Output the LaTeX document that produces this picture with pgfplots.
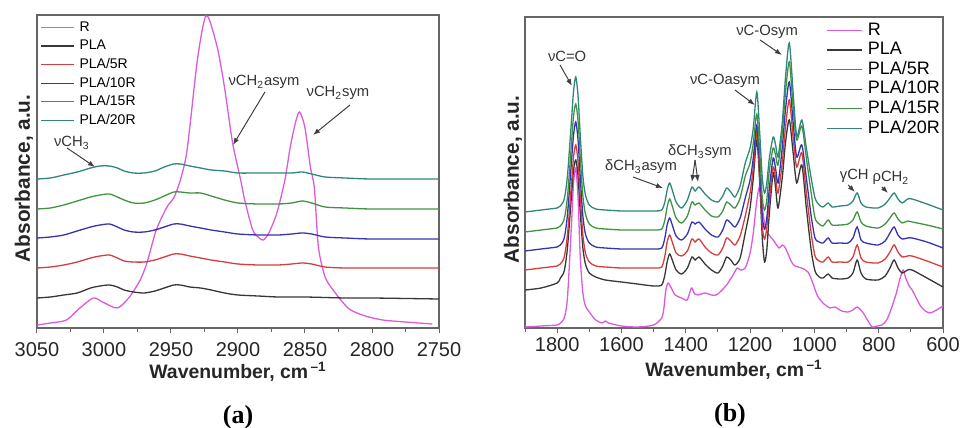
\documentclass[border=0pt]{standalone}
\usepackage{fontspec}
\setmainfont{Liberation Sans}
\newfontfamily\serif{Liberation Serif}
\usepackage{pgfplots}
\pgfplotsset{compat=1.18}
\usetikzlibrary{arrows.meta}
\definecolor{cR}{RGB}{220,90,220}
\definecolor{cPLA}{RGB}{55,55,55}
\definecolor{c5}{RGB}{212,62,62}
\definecolor{c10}{RGB}{52,52,175}
\definecolor{c15}{RGB}{66,146,66}
\definecolor{c20}{RGB}{48,134,124}
\tikzset{
  ann/.style={font=\fontsize{7.4}{9}\selectfont, text=black!80, inner sep=0pt},
  arr/.style={-{Latex[length=3.5pt,width=2.6pt]}, black!75, line width=0.5pt},
}
\pgfplotsset{
  spec/.style={
    scale only axis, x dir=reverse, clip=false,
    axis line style={draw=black!60, line width=0.6pt},
    tick align=outside, xtick pos=bottom, ytick=\empty,
    major tick length=2.6pt, minor tick length=2pt,
    tick style={black!60, line width=0.5pt},
    /pgf/number format/assume math mode=true,
    /pgf/number format/1000 sep={},
    xticklabel style={font=\fontsize{10}{12}\selectfont, text=black!85},
    xlabel style={font=\bfseries\fontsize{9.7}{11}\selectfont, anchor=center, text=black!85},
    ylabel style={font=\bfseries\fontsize{10.4}{12}\selectfont, anchor=center, text=black!85},
    every axis plot/.append style={line width=0.65pt, smooth, tension=0.45, mark=none},
    legend cell align=left,
  },
}
\begin{document}
\begin{tikzpicture}
\useasboundingbox (0,0) rectangle (481.5pt,214pt);
% ---------------- panel (a)
\begin{axis}[spec, name=A,
  at={(18.5pt,50pt)}, anchor=south west, width=201pt, height=156.5pt,
  xmin=2750, xmax=3050, ymin=0, ymax=313,
  xtick={2750,2800,...,3050}, minor xtick={2775,2825,...,3025},
  xticklabel style={yshift=-1pt},
  xlabel={Wavenumber, cm\textsuperscript{\,–1}},
  xlabel style={at={(axis description cs:0.5,-0.1406)}},
  ylabel={Absorbance, a.u.},
  ylabel style={at={(axis description cs:-0.0323,0.478)}},
  legend style={draw=none, fill=none, at={(0,1)}, anchor=north west, xshift=1.5pt, yshift=-1.6pt,
    inner sep=0pt, row sep=0.5pt, column sep=1.7pt, font=\fontsize{7}{8}\selectfont,
    nodes={inner sep=0.8pt, text height=5.6pt, text depth=1.6pt}},
  legend image code/.code={\draw[#1, line width=0.6pt] (0pt,0pt) -- (16.5pt,0pt);},
]
\addplot[cR] coordinates {(3050,3) (3040,5) (3028,8) (3018,20) (3008,30) (3001,26) (2990,20) (2981,31) (2973,48) (2968,65) (2961,98) (2953,121) (2948,130) (2943,148) (2938,178) (2931,261) (2927,296) (2924,312) (2921,307) (2915,278) (2910,240) (2904,185) (2898,148) (2895,128) (2889,98) (2884,90) (2881,88) (2877,95) (2871,115) (2865,148) (2861,181) (2857,206) (2854,216) (2850,200) (2846,161) (2843,140) (2840,81) (2835,51) (2829,38) (2822,26) (2816,18) (2805,12) (2792,8) (2775,6) (2755,4)};
\addlegendentry{R}
\addplot[cPLA] coordinates {(3050,30) (3040,31) (3030,33) (3020,35) (3010,40) (3003,42) (2996,43) (2990,41) (2985,38) (2978,36) (2970,35) (2962,37) (2955,40) (2948,43) (2943,43) (2936,41) (2928,40) (2920,38) (2910,35) (2900,33) (2885,32) (2870,31) (2850,31) (2820,30) (2800,30) (2750,29)};
\addlegendentry{PLA}
\addplot[c5] coordinates {(3050,60) (3040,61) (3030,63) (3020,66) (3010,70) (3003,72) (2996,73) (2990,70) (2985,67) (2978,66) (2970,66) (2962,68) (2955,71) (2948,74) (2943,74) (2936,72) (2928,70) (2920,68) (2910,66) (2900,64) (2885,63) (2870,63) (2860,64) (2852,65) (2845,64) (2835,61) (2820,60) (2800,60) (2750,60)};
\addlegendentry{PLA/5R}
\addplot[c10] coordinates {(3050,90) (3040,91) (3030,93) (3020,97) (3010,101) (3003,103) (2996,104) (2990,101) (2985,98) (2978,96) (2970,96) (2962,98) (2955,101) (2948,104) (2943,104) (2936,102) (2928,100) (2920,98) (2910,96) (2900,94) (2885,93) (2870,93) (2860,94) (2852,95) (2845,94) (2835,91) (2820,90) (2800,89) (2750,89)};
\addlegendentry{PLA/10R}
\addplot[c15] coordinates {(3050,119) (3040,120) (3030,123) (3020,127) (3010,131) (3003,133) (2996,134) (2990,131) (2985,128) (2978,125) (2970,125) (2962,128) (2955,132) (2948,136) (2943,136) (2936,135) (2928,135) (2920,132) (2910,128) (2900,125) (2885,124) (2870,124) (2860,125) (2852,127) (2845,125) (2835,121) (2820,120) (2800,119) (2750,119)};
\addlegendentry{PLA/15R}
\addplot[c20] coordinates {(3050,149) (3040,150) (3030,153) (3020,156) (3010,160) (3003,162) (2996,162) (2990,160) (2985,157) (2978,155) (2970,155) (2962,157) (2955,161) (2948,164) (2943,164) (2936,162) (2928,160) (2920,158) (2910,157) (2900,155) (2885,155) (2870,155) (2860,155) (2852,156) (2845,154) (2835,151) (2820,150) (2800,149) (2750,149)};
\addlegendentry{PLA/20R}
\node[ann] at (axis cs:3024,185) {νCH\textsubscript{3}};
\draw[arr] (axis cs:3027.6,180) -- (axis cs:3006.7,161);
\node[ann] at (axis cs:2880.6,246) {νCH\textsubscript{2}asym};
\draw[arr] (axis cs:2879.9,236) -- (axis cs:2903.7,183);
\node[ann] at (axis cs:2825.4,235) {νCH\textsubscript{2}sym};
\draw[arr] (axis cs:2816.4,223) -- (axis cs:2844,193);
\end{axis}
% ---------------- panel (b)
\begin{axis}[spec, name=B,
  at={(262.5pt,50pt)}, anchor=south west, width=209pt, height=155.5pt,
  xmin=600, xmax=1900, ymin=0, ymax=311,
  xtick={600,800,...,1800}, minor xtick={700,900,...,1900},
  xticklabel style={yshift=1.3pt},
  xlabel={Wavenumber, cm\textsuperscript{\,–1}},
  xlabel style={at={(axis description cs:0.5,-0.135)}},
  ylabel={Absorbance, a.u.},
  ylabel style={at={(axis description cs:-0.0287,0.478)}},
  legend style={draw=none, fill=none, at={(1,1)}, anchor=north east, xshift=-0.7pt, yshift=-1.7pt,
    inner sep=0pt, row sep=0.2pt, column sep=1.9pt, font=\fontsize{9}{10}\selectfont,
    nodes={inner sep=0.6pt, text height=6.6pt, text depth=1.8pt}},
  legend image code/.code={\draw[#1, line width=0.6pt] (0pt,0pt) -- (17.5pt,0pt);},
]
\addplot[cR] coordinates {(1900,1) (1850,2) (1800,3) (1790,5) (1778,10) (1768,30) (1756,100) (1749,145) (1742,160) (1735,130) (1728,70) (1720,35) (1712,22) (1700,16) (1680,8) (1660,5) (1650,7) (1640,5) (1600,2) (1550,1) (1500,3) (1475,10) (1468,20) (1462,38) (1455,45) (1445,40) (1433,33) (1413,30) (1396,28) (1385,38) (1381,40) (1372,34) (1362,33) (1340,35) (1320,33) (1305,33) (1290,37) (1273,43) (1255,52) (1240,60) (1230,58) (1215,60) (1200,75) (1190,95) (1180,125) (1172,140) (1165,128) (1155,105) (1145,95) (1128,88) (1110,80) (1100,83) (1090,80) (1071,66) (1060,62) (1040,60) (1020,56) (1005,45) (990,32) (970,24) (951,20) (936,21) (915,17) (895,16) (880,18) (867,21) (850,16) (835,8) (820,1) (805,2) (790,3) (775,8) (760,20) (745,35) (735,48) (724,58) (716,50) (705,42) (696,38) (680,28) (670,22) (655,17) (640,15) (620,18) (600,22)};
\addlegendentry{R}
\addplot[cPLA] coordinates {(1900,38) (1850,40) (1800,45) (1790,50) (1778,57) (1768,80) (1756,130) (1749,158) (1742,168) (1735,152) (1728,115) (1720,80) (1712,64) (1700,55) (1680,51) (1650,48) (1600,46) (1550,44) (1500,42) (1475,43) (1465,53) (1458,66) (1450,74) (1442,68) (1430,58) (1413,54) (1395,60) (1381,71) (1371,68) (1359,71) (1340,64) (1320,58) (1300,55) (1285,62) (1273,71) (1260,68) (1247,63) (1231,70) (1215,95) (1200,120) (1190,150) (1179,188) (1170,145) (1162,90) (1155,66) (1148,78) (1140,115) (1128,155) (1120,138) (1113,120) (1100,150) (1090,185) (1078,208) (1066,175) (1055,145) (1039,163) (1025,120) (1010,78) (998,57) (985,51) (973,50) (957,54) (945,50) (920,49) (895,50) (880,55) (867,68) (855,55) (840,49) (802,48) (780,52) (765,60) (752,68) (740,60) (727,55) (710,58) (696,58) (650,50) (600,41)};
\addlegendentry{PLA}
\addplot[c5] coordinates {(1900,58) (1850,60) (1800,62) (1790,64) (1778,71) (1768,93) (1756,142) (1749,171) (1742,183) (1735,166) (1728,130) (1720,93) (1712,75) (1700,66) (1680,62) (1650,61) (1600,60) (1550,60) (1500,60) (1475,61) (1465,72) (1458,86) (1450,93) (1442,86) (1430,75) (1413,72) (1395,77) (1381,89) (1371,86) (1359,89) (1340,81) (1320,75) (1300,73) (1285,80) (1273,90) (1260,87) (1247,83) (1231,92) (1215,112) (1200,135) (1190,160) (1179,196) (1170,150) (1162,102) (1155,89) (1148,100) (1140,128) (1128,161) (1120,148) (1113,135) (1100,165) (1090,200) (1078,228) (1066,190) (1055,161) (1039,175) (1025,135) (1010,95) (998,72) (985,67) (973,66) (957,71) (945,66) (920,66) (895,66) (880,71) (867,83) (855,70) (840,66) (802,65) (780,69) (765,76) (752,83) (740,76) (727,71) (710,72) (696,72) (650,67) (600,61)};
\addlegendentry{PLA/5R}
\addplot[c10] coordinates {(1900,77) (1850,79) (1800,81) (1790,83) (1778,90) (1768,113) (1756,164) (1749,193) (1742,206) (1735,188) (1728,150) (1720,112) (1712,94) (1700,85) (1680,81) (1650,80) (1600,79) (1550,79) (1500,79) (1475,80) (1465,90) (1458,103) (1450,110) (1442,103) (1430,92) (1413,88) (1395,94) (1381,106) (1371,104) (1359,106) (1340,99) (1320,93) (1300,91) (1285,98) (1273,108) (1260,105) (1247,101) (1231,110) (1215,130) (1200,148) (1190,170) (1179,203) (1170,160) (1162,112) (1155,99) (1148,110) (1140,140) (1128,170) (1120,158) (1113,145) (1100,180) (1090,218) (1078,246) (1066,205) (1055,171) (1039,183) (1025,150) (1010,112) (998,90) (985,86) (973,85) (957,90) (945,85) (920,85) (895,85) (880,90) (867,101) (855,88) (840,85) (802,83) (780,87) (765,95) (752,101) (740,93) (727,89) (710,90) (696,90) (650,86) (600,80)};
\addlegendentry{PLA/10R}
\addplot[c15] coordinates {(1900,96) (1850,98) (1800,100) (1790,102) (1778,109) (1768,131) (1756,182) (1749,212) (1742,224) (1735,207) (1728,170) (1720,132) (1712,114) (1700,104) (1680,100) (1650,99) (1600,98) (1550,98) (1500,98) (1475,99) (1465,108) (1458,121) (1450,129) (1442,122) (1430,110) (1413,105) (1395,112) (1381,126) (1371,123) (1359,125) (1340,118) (1320,112) (1300,111) (1285,117) (1273,126) (1260,123) (1247,120) (1231,130) (1215,152) (1200,165) (1190,185) (1179,214) (1170,175) (1162,130) (1155,118) (1148,128) (1140,158) (1128,180) (1120,172) (1113,163) (1100,195) (1090,235) (1078,266) (1066,220) (1055,188) (1039,202) (1025,170) (1010,135) (998,110) (985,104) (973,102) (957,108) (945,103) (920,103) (895,104) (880,108) (867,116) (855,106) (840,102) (802,100) (780,104) (765,110) (752,115) (740,109) (727,105) (710,107) (696,106) (650,103) (600,99)};
\addlegendentry{PLA/15R}
\addplot[c20] coordinates {(1900,116) (1850,118) (1800,120) (1790,122) (1778,129) (1768,152) (1756,205) (1749,237) (1742,251) (1735,232) (1728,192) (1720,152) (1712,133) (1700,123) (1680,119) (1650,118) (1600,117) (1550,117) (1500,117) (1475,118) (1465,126) (1458,138) (1450,145) (1442,138) (1430,126) (1413,120) (1395,128) (1381,141) (1371,137) (1359,141) (1340,134) (1320,128) (1300,126) (1285,132) (1273,140) (1260,136) (1247,131) (1231,142) (1215,165) (1200,180) (1190,200) (1179,236) (1170,195) (1162,150) (1155,135) (1148,145) (1140,170) (1128,191) (1120,182) (1113,171) (1100,205) (1090,250) (1078,285) (1066,235) (1055,192) (1039,208) (1025,180) (1010,150) (998,130) (985,123) (973,121) (957,125) (945,121) (920,122) (895,123) (880,127) (867,135) (855,125) (840,121) (802,120) (780,124) (765,130) (752,135) (740,129) (727,125) (710,129) (696,129) (650,124) (600,118)};
\addlegendentry{PLA/20R}
\node[ann] at (axis cs:1769,272) {νC=O};
\draw[arr] (axis cs:1791,263) -- (axis cs:1754,242);
\node[ann] at (axis cs:1539,161) {δCH\textsubscript{3}asym};
\draw[arr] (axis cs:1564,151) -- (axis cs:1471,140);
\node[ann] at (axis cs:1356,176) {δCH\textsubscript{3}sym};
\draw[arr] (axis cs:1371,168) -- (axis cs:1381,146);
\draw[arr] (axis cs:1371,168) -- (axis cs:1362,146);
\node[ann] at (axis cs:1278,247) {νC-Oasym};
\draw[arr] (axis cs:1247,238) -- (axis cs:1185,223);
\node[ann] at (axis cs:1147,296) {νC-Osym};
\draw[arr] (axis cs:1169,288) -- (axis cs:1101,273);
\node[ann] at (axis cs:876,152) {γCH};
\draw[arr] (axis cs:895,143) -- (axis cs:874,136);
\node[ann] at (axis cs:762,150) {ρCH\textsubscript{2}};
\draw[arr] (axis cs:790,141) -- (axis cs:771,135);
\end{axis}
\node[font=\serif\bfseries\fontsize{13}{15}\selectfont] at ([yshift=-44.5pt]A.south) {(a)};
\node[font=\serif\bfseries\fontsize{13}{15}\selectfont] at ([xshift=-2pt,yshift=-43.5pt]B.south) {(b)};
\end{tikzpicture}
\end{document}
